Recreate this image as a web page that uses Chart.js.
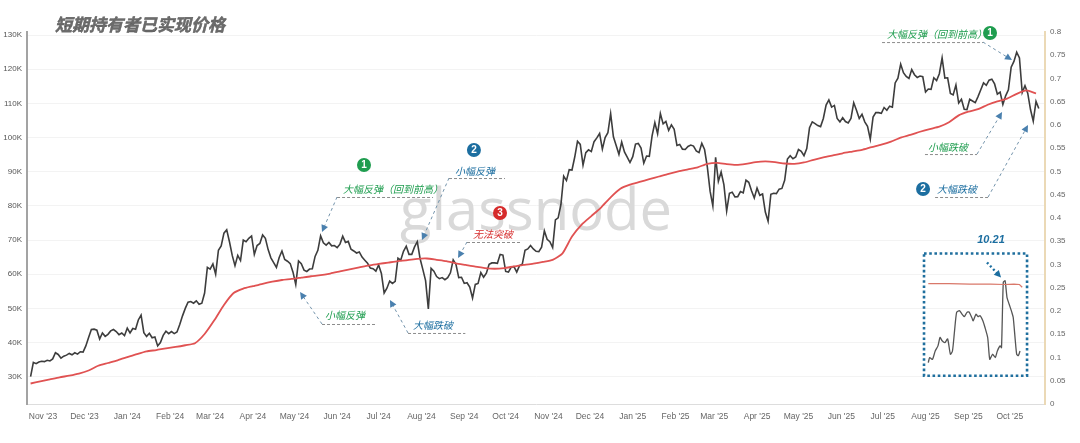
<!DOCTYPE html>
<html>
<head>
<meta charset="utf-8">
<title>短期持有者已实现价格</title>
<script src="https://cdn.jsdelivr.net/npm/chart.js@4.4.1/dist/chart.umd.min.js"></script>
<style>
  html, body { margin: 0; padding: 0; background: #fff; }
  #wrap { position: relative; width: 1080px; height: 443px; }
</style>
</head>
<body>
<div id="wrap"><canvas id="sthChart" width="1080" height="443"></canvas></div>
<script>
// x values are days counted from 2023-10-23 (day 0)

// BTC price (K USD), one value every 2 days
const priceStepDays = 2;
const btcPrice = [
  // Oct '23
  30.0, 34.2, 33.8, 34.3, 34.5,
  // Nov '23
  34.4, 34.8, 34.6, 35.2, 37.0, 36.5, 35.4, 36.0, 36.3, 36.8, 36.4, 37.0, 36.6, 37.3, 37.2,
  // Dec '23
  39.0, 41.5, 43.8, 43.9, 43.6, 41.0, 42.8, 41.8, 42.4, 43.4, 43.8, 43.2, 42.3, 42.8, 42.0,
  // Jan '24
  44.2, 42.8, 44.1, 43.9, 46.6, 48.0, 42.9, 41.8, 42.7, 41.4, 41.6, 39.0, 40.0, 42.1, 43.3, 42.6,
  // Feb '24
  43.2, 42.6, 43.1, 45.3, 47.8, 50.0, 51.8, 52.0, 51.5, 52.2, 51.2, 51.5, 54.5, 62.0,
  // Mar '24
  61.5, 63.0, 60.0, 67.0, 68.3, 72.0, 73.0, 69.5, 65.5, 62.5, 65.5, 64.0, 70.0, 69.5, 70.5, 71.2,
  // Apr '24
  65.8, 68.4, 69.0, 71.5, 70.5, 67.2, 64.8, 63.4, 62.0, 64.9, 66.8, 64.3, 63.8, 63.1, 60.6,
  // May '24
  57.0, 63.9, 63.1, 61.2, 60.8, 61.5, 61.6, 65.2, 67.0, 71.2, 69.2, 68.5, 69.3, 68.3, 68.4,
  // Jun '24
  67.8, 68.8, 71.1, 69.3, 69.6, 67.3, 66.8, 66.2, 66.5, 65.0, 64.1, 63.2, 61.8, 61.6, 60.9,
  // Jul '24
  62.7, 60.2, 54.5, 55.9, 58.0, 57.3, 57.9, 64.7, 64.1, 66.7, 68.2, 65.8, 65.8, 68.0, 69.5, 64.6,
  // Aug '24
  61.4, 58.1, 49.8, 61.7, 60.9, 59.3, 58.7, 59.0, 58.4, 59.0, 60.4, 64.2, 62.9, 59.0, 59.1,
  // Sep '24
  57.3, 57.5, 56.2, 53.0, 57.0, 57.3, 60.5, 59.1, 60.3, 62.9, 63.3, 63.3, 63.2, 65.8, 65.6,
  // Oct '24
  60.8, 60.6, 62.1, 62.2, 60.6, 62.5, 62.9, 67.0, 67.4, 68.4, 67.4, 66.7, 66.6, 67.9, 72.7, 70.2,
  // Nov '24
  69.5, 67.8, 75.9, 76.5, 80.4, 88.7, 87.4, 90.6, 90.5, 94.3, 98.9, 98.0, 91.9, 95.6, 96.4,
  // Dec '24
  95.9, 98.8, 99.9, 101.2, 96.6, 100.0, 101.4, 107.0, 100.2, 97.7, 95.1, 98.7, 95.8, 94.3, 92.7,
  // Jan '25
  94.4, 98.1, 98.3, 96.9, 92.5, 94.6, 94.5, 100.5, 104.4, 101.1, 107.0, 104.0, 104.7, 102.1, 103.7, 102.4,
  // Feb '25
  97.7, 98.0, 96.6, 96.5, 97.4, 97.8, 97.5, 96.1, 95.6, 98.3, 96.5, 91.4, 84.3, 80.0,
  // Mar '25
  94.2, 87.2, 89.9, 86.2, 78.5, 83.7, 84.0, 82.6, 82.7, 84.2, 83.8, 87.5, 86.9, 84.4, 82.3,
  // Apr '25
  85.2, 83.1, 83.5, 78.2, 75.5, 83.4, 83.7, 83.6, 84.9, 85.1, 87.5, 93.7, 94.7, 93.8, 94.3,
  // May '25
  96.5, 96.0, 94.7, 96.8, 102.9, 104.6, 104.1, 103.5, 103.2, 105.6, 109.5, 111.0, 108.9, 109.4, 105.6, 104.6,
  // Jun '25
  105.8, 104.7, 104.3, 105.6, 110.2, 108.0, 105.6, 106.8, 104.6, 103.3, 99.5, 106.0, 107.3, 107.3, 107.1,
  // Jul '25
  108.8, 108.0, 109.2, 108.9, 116.0, 117.4, 121.5, 119.0, 117.9, 117.3, 119.9, 118.4, 117.6, 118.0, 117.8,
  // Aug '25
  113.3, 114.2, 114.1, 117.5, 116.7, 118.7, 123.3, 117.4, 117.5, 112.9, 112.5, 115.4, 110.1, 111.2, 108.3, 108.2,
  // Sep '25
  111.2, 110.7, 110.2, 112.0, 114.0, 116.0, 115.3, 116.8, 117.1, 115.7, 112.7, 113.3, 109.7, 112.2, 114.0,
  // Oct '25
  120.6, 122.3, 125.0, 123.3, 113.2, 115.2, 113.0, 108.2, 104.8, 110.6, 108.5
];

// short-term holder realized price (K USD), one value every 7 days
const sthStepDays = 7;
const sthRealizedPrice = [
  28.0, 28.6, 29.2, 29.8, 30.3, 30.9, 31.8, 33.2, 34.0, 34.8,
  35.7, 36.6, 37.4, 37.8, 38.3, 38.7, 39.2, 39.8, 42.5, 46.5,
  51.0, 54.5, 55.8, 56.5, 57.2, 57.8, 58.3, 58.6, 59.0, 59.4,
  59.7, 60.2, 60.8, 61.4, 62.0, 62.6, 63.0, 63.4, 63.8, 64.1,
  64.5, 64.6, 64.2, 63.8, 63.2, 62.7, 62.2, 61.8, 61.6, 61.8,
  62.3, 62.7, 63.1, 63.6, 64.2, 66.0, 71.0, 74.5, 77.0, 79.5,
  82.5, 85.0, 86.2, 87.0, 87.8, 88.6, 89.4, 90.1, 90.7, 91.3,
  92.3, 92.6, 92.2, 92.0, 92.3, 92.8, 93.0, 92.8, 92.4, 92.3,
  92.7, 93.5, 94.2, 94.8, 95.4, 95.9, 96.4, 97.2, 97.9, 98.8,
  100.0, 100.8, 101.7, 102.5, 103.2, 104.5, 106.5, 107.6, 108.3, 109.6,
  110.6, 111.4, 112.8, 113.8, 112.9
];

// inset (right axis units)
const insetDays = [650, 651, 653, 655, 657, 658.5, 660, 662, 664, 666, 667.5, 669, 670.5, 672.5,
  674, 676, 678, 679.5, 681.5, 682.5, 684.5, 686, 687.5, 689.5, 691, 693, 694.5, 696.5,
  698.5, 700, 702, 703, 704.3, 705.6, 707, 708.5, 710.5, 711.5, 713, 714, 715.2, 716.4];
const insetRatio = [0.089, 0.100, 0.096, 0.114, 0.125, 0.143, 0.136, 0.132, 0.140, 0.107, 0.114, 0.157, 0.197, 0.201,
  0.195, 0.188, 0.197, 0.198, 0.186, 0.179, 0.193, 0.188, 0.190, 0.179, 0.165, 0.143, 0.096, 0.107,
  0.100, 0.114, 0.125, 0.121, 0.262, 0.265, 0.229, 0.215, 0.197, 0.186, 0.136, 0.107, 0.104, 0.114];
const insetLevelDays = [650, 665, 680, 695, 705, 712, 716, 718];
const insetLevel = [0.259, 0.259, 0.258, 0.258, 0.257, 0.258, 0.257, 0.251];

// axis ticks
const monthTickDays = [9, 39, 70, 101, 130, 161, 191, 222, 252, 283, 314, 344,
  375, 405, 436, 467, 495, 526, 556, 587, 617, 648, 679, 709];
const monthLabels = ["Nov '23", "Dec '23", "Jan '24", "Feb '24", "Mar '24", "Apr '24", "May '24", "Jun '24",
  "Jul '24", "Aug '24", "Sep '24", "Oct '24", "Nov '24", "Dec '24", "Jan '25", "Feb '25", "Mar '25",
  "Apr '25", "May '25", "Jun '25", "Jul '25", "Aug '25", "Sep '25", "Oct '25"];
const priceTicks = [30, 40, 50, 60, 70, 80, 90, 100, 110, 120, 130];

const GREEN = "#1f9d4f";
const BLUE = "#1c6ea0";
const RED = "#d62b2b";
const CJK = '"Noto Sans CJK SC", sans-serif';

// callouts, in chart units: [day, K]
const notes = [
  { text: "大幅反弹（回到前高）", color: GREEN, at: [226.2, 84.9], under: [221.9, 291.4, 82.6],
    leader: [221.9, 82.6, 211.0, 72.35], badge: { n: "1", at: [241.4, 91.95] } },
  { text: "小幅反弹", color: GREEN, at: [213.2, 48.06], under: [211.0, 249.4, 45.42],
    leader: [211.0, 45.42, 195.1, 54.79] },
  { text: "大幅跌破", color: BLUE, at: [276.9, 45.13], under: [273.3, 314.8, 42.79],
    leader: [273.3, 42.79, 260.2, 52.45] },
  { text: "小幅反弹", color: BLUE, at: [307.3, 90.2], under: [302.96, 343.5, 88.15],
    leader: [302.96, 88.15, 283.4, 70.0], badge: { n: "2", at: [321.0, 96.34] } },
  { text: "无法突破", color: RED, at: [320.3, 71.76], under: [316.0, 355.8, 69.42],
    leader: [316.0, 69.42, 309.5, 64.74], badge: { n: "3", at: [339.9, 77.91] } },
  { text: "大幅反弹（回到前高）", color: GREEN, at: [620.1, 130.29], under: [616.5, 689.6, 127.95],
    leader: [689.6, 127.95, 710.6, 122.68], badge: { n: "1", at: [694.7, 130.59] } },
  { text: "小幅跌破", color: GREEN, at: [649.8, 97.22], under: [647.6, 685.3, 95.17],
    leader: [685.3, 95.17, 703.4, 107.47] },
  { text: "大幅跌破", color: BLUE, at: [656.3, 84.93], under: [654.9, 693.3, 82.59],
    leader: [693.3, 82.59, 722.2, 103.66], badge: { n: "2", at: [646.2, 84.93] } }
];

// inset frame and its label, in [day, right-axis] units
const insetBox = [646.9, 721.5, 0.3238, 0.0609];
const insetLabel = { text: "10.21", at: [695.4, 0.3518], arrow: [692.5, 0.3044, 702.7, 0.2721] };
const watermarkAt = [366, 72.9];

document.addEventListener("DOMContentLoaded", function () {
  Chart.defaults.font.family = '"Liberation Sans", Arial, sans-serif';
  initializeChart();
});

function toPoints(values, step) {
  return values.map((v, i) => ({ x: i * step, y: v }));
}

function pairPoints(xs, ys) {
  return xs.map((x, i) => ({ x: x, y: ys[i] }));
}

function drawArrow(ctx, x0, y0, x1, y1, opts) {
  const ang = Math.atan2(y1 - y0, x1 - x0);
  const head = opts.head || 7;
  ctx.save();
  ctx.strokeStyle = opts.stroke;
  ctx.lineWidth = opts.width || 1;
  ctx.setLineDash(opts.dash || [3, 3]);
  ctx.beginPath();
  ctx.moveTo(x0, y0);
  ctx.lineTo(x1 - Math.cos(ang) * head * 0.8, y1 - Math.sin(ang) * head * 0.8);
  ctx.stroke();
  ctx.setLineDash([]);
  ctx.fillStyle = opts.fill;
  ctx.beginPath();
  ctx.moveTo(x1, y1);
  ctx.lineTo(x1 - Math.cos(ang) * head + Math.sin(ang) * head * 0.5,
             y1 - Math.sin(ang) * head - Math.cos(ang) * head * 0.5);
  ctx.lineTo(x1 - Math.cos(ang) * head - Math.sin(ang) * head * 0.5,
             y1 - Math.sin(ang) * head + Math.cos(ang) * head * 0.5);
  ctx.closePath();
  ctx.fill();
  ctx.restore();
}

// Watermark, title, callouts and the inset frame
const overlayPlugin = {
  id: "overlay",
  beforeDatasetsDraw(chart) {
    const ctx = chart.ctx;
    const x = chart.scales.x.getPixelForValue(watermarkAt[0]);
    const y = chart.scales.y.getPixelForValue(watermarkAt[1]);
    ctx.save();
    ctx.font = '58px "Open Sans", sans-serif';
    ctx.fillStyle = "#d9d9d9";
    ctx.textAlign = "center";
    ctx.textBaseline = "alphabetic";
    ctx.fillText("glassnode", x, y);
    ctx.restore();
  },
  afterDraw(chart) {
    const ctx = chart.ctx;
    const xs = chart.scales.x, ys = chart.scales.y, y1 = chart.scales.y1;
    const px = (d) => xs.getPixelForValue(d);
    const py = (k) => ys.getPixelForValue(k);
    const pr = (r) => y1.getPixelForValue(r);

    // title
    ctx.save();
    ctx.font = "italic bold 17px " + CJK;
    ctx.fillStyle = "#6c6c6c";
    ctx.strokeStyle = "#555";
    ctx.lineWidth = 0.4;
    ctx.textBaseline = "middle";
    ctx.fillText("短期持有者已实现价格", 55, 25);
    ctx.strokeText("短期持有者已实现价格", 55, 25);
    ctx.restore();

    // callouts
    notes.forEach((n) => {
      ctx.save();
      ctx.strokeStyle = "#8c8c8c";
      ctx.lineWidth = 1;
      ctx.setLineDash([3, 2]);
      ctx.beginPath();
      ctx.moveTo(px(n.under[0]), py(n.under[2]) + 0.5);
      ctx.lineTo(px(n.under[1]), py(n.under[2]) + 0.5);
      ctx.stroke();
      ctx.restore();

      drawArrow(ctx, px(n.leader[0]), py(n.leader[1]), px(n.leader[2]), py(n.leader[3]),
        { stroke: "#7393ab", fill: "#4a80ae", dash: [3, 3], width: 1, head: 7 });

      ctx.save();
      ctx.font = "italic 10px " + CJK;
      ctx.fillStyle = n.color;
      ctx.textBaseline = "middle";
      ctx.fillText(n.text, px(n.at[0]), py(n.at[1]));
      ctx.restore();

      if (n.badge) {
        const bx = px(n.badge.at[0]), by = py(n.badge.at[1]);
        ctx.save();
        ctx.fillStyle = n.color;
        ctx.beginPath();
        ctx.arc(bx, by, 7, 0, Math.PI * 2);
        ctx.fill();
        ctx.fillStyle = "#fff";
        ctx.font = 'bold 10px "Liberation Sans", Arial, sans-serif';
        ctx.textAlign = "center";
        ctx.textBaseline = "middle";
        ctx.fillText(n.badge.n, bx, by + 0.5);
        ctx.restore();
      }
    });

    // inset frame
    ctx.save();
    ctx.strokeStyle = "#1f6f9e";
    ctx.lineWidth = 2.6;
    ctx.setLineDash([2.6, 2.6]);
    ctx.strokeRect(px(insetBox[0]), pr(insetBox[2]),
      px(insetBox[1]) - px(insetBox[0]), pr(insetBox[3]) - pr(insetBox[2]));
    ctx.restore();

    ctx.save();
    ctx.font = "italic bold 11px " + '"Liberation Sans", Arial, sans-serif';
    ctx.fillStyle = BLUE;
    ctx.textAlign = "center";
    ctx.textBaseline = "middle";
    ctx.fillText(insetLabel.text, px(insetLabel.at[0]), pr(insetLabel.at[1]));
    ctx.restore();
    const a = insetLabel.arrow;
    drawArrow(ctx, px(a[0]), pr(a[1]), px(a[2]), pr(a[3]),
      { stroke: BLUE, fill: BLUE, dash: [2, 2.5], width: 2.4, head: 7 });
  }
};

function initializeChart() {
  const ctx = document.getElementById("sthChart");
  new Chart(ctx, {
    type: "line",
    data: {
      datasets: [
        {
          label: "STH Realized Price",
          data: toPoints(sthRealizedPrice, sthStepDays),
          borderColor: "#e05252",
          borderWidth: 1.8,
          pointRadius: 0,
          tension: 0.2,
          yAxisID: "y",
        },
        {
          label: "Price",
          data: toPoints(btcPrice, priceStepDays),
          borderColor: "#3d3d3d",
          borderWidth: 1.6,
          pointRadius: 0,
          tension: 0,
          yAxisID: "y",
        },
        {
          label: "Inset level",
          data: pairPoints(insetLevelDays, insetLevel),
          borderColor: "#d9786a",
          borderWidth: 1.2,
          pointRadius: 0,
          yAxisID: "y1",
        },
        {
          label: "Inset",
          data: pairPoints(insetDays, insetRatio),
          borderColor: "#555555",
          borderWidth: 1.3,
          pointRadius: 0,
          tension: 0.2,
          yAxisID: "y1",
        },
      ],
    },
    options: {
      responsive: false,
      animation: false,
      layout: { padding: { top: 32, left: 0, right: 0, bottom: 0 } },
      plugins: {
        legend: { display: false },
        tooltip: { enabled: false },
      },
      scales: {
        x: {
          type: "linear",
          min: -2.6,
          max: 734.5,
          afterBuildTicks: (scale) => {
            scale.ticks = monthTickDays.map((v) => ({ value: v }));
          },
          afterFit: (scale) => {
            scale.height = 39;
          },
          ticks: {
            callback: (value, index) => monthLabels[index],
            color: "#666",
            font: { size: 8.5 },
            padding: 8,
            maxRotation: 0,
            autoSkip: false,
          },
          grid: { display: false, drawTicks: false },
          border: { color: "#dddddd", width: 1 },
        },
        y: {
          position: "left",
          min: 22,
          max: 130.9,
          afterBuildTicks: (scale) => {
            scale.ticks = priceTicks.map((v) => ({ value: v }));
          },
          afterFit: (scale) => {
            scale.width = 27;
          },
          ticks: {
            callback: (v) => v + "K",
            color: "#555",
            font: { size: 8 },
            padding: 5,
          },
          grid: { color: "#f3f3f3", drawTicks: false },
          border: { color: "#a3a3a3", width: 2 },
        },
        y1: {
          position: "right",
          min: 0,
          max: 0.8,
          afterFit: (scale) => {
            scale.width = 35;
          },
          ticks: {
            stepSize: 0.05,
            callback: (v) => String(+v.toFixed(2)),
            color: "#666",
            font: { size: 8 },
            padding: 5,
          },
          grid: { display: false, drawTicks: false },
          border: { color: "#ebd9b6", width: 2 },
        },
      },
    },
    plugins: [overlayPlugin],
  });
}
</script>
</body>
</html>
